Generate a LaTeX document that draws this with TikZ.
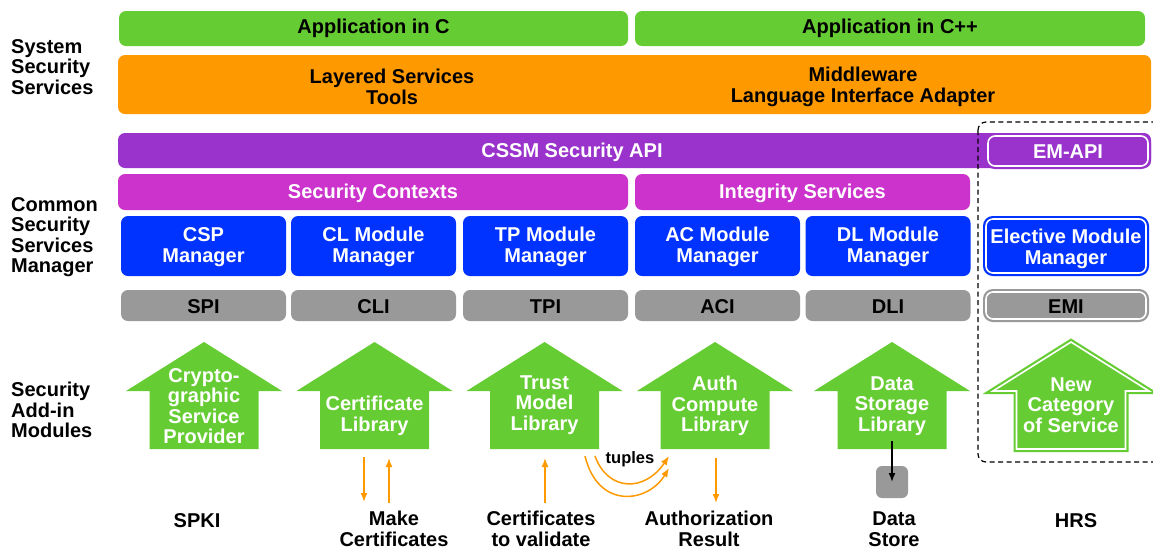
\documentclass[tikz,border=0pt]{standalone}
\usepackage{fontspec}
\setmainfont{Liberation Sans}
\usetikzlibrary{arrows.meta}
\definecolor{cgreen}{HTML}{66CC33}
\definecolor{corange}{HTML}{FF9900}
\definecolor{cpurple}{HTML}{9933CC}
\definecolor{cmagenta}{HTML}{CC33CC}
\definecolor{cblue}{HTML}{0033FF}
\definecolor{cgray}{HTML}{999999}
\definecolor{cflow}{HTML}{FF9900}

% green "add-in" block arrow pointing up, centred on x = #1
\newcommand\addinshape[1]{%
  (#1-54.5,449) -- (#1-54.5,391) -- (#1-78,391) -- (#1,342) --
  (#1+78,391) -- (#1+54.5,391) -- (#1+54.5,449) -- cycle}

\begin{document}
\begin{tikzpicture}[x=1pt,y=-1pt,
  txt/.style={font=\fontsize{20}{20.5}\selectfont\bfseries, align=center, inner sep=0pt},
  bar/.style={txt, rounded corners=7pt, draw=none},
  whitetxt/.style={txt, text=white, yshift=-1pt},
  blacktxt/.style={txt, text=black, yshift=-1pt},
  sidelabel/.style={txt, align=left, anchor=west},
  bottomlabel/.style={txt},
  rimmed/.style={rounded corners=7pt, line width=6pt},
  rimline/.style={rounded corners=7pt, draw=white, line width=1.6pt},
  flow/.style={draw=cflow, line width=1.5pt, -{Latex[length=9pt,width=7pt]}},
  modtxt/.style={txt, text=white}]
\useasboundingbox (0,0) rectangle (1153,550);

% ---- side labels
\node[sidelabel] (sss) at (11,67) {System\\Security\\Services};
\node[sidelabel] (cssml) at (11,237) {Common\\Security\\Services\\Manager};
\node[sidelabel] (saim) at (11,410) {Security\\Add-in\\Modules};

% ---- applications
\node[bar, blacktxt, fill=cgreen, minimum width=509pt, minimum height=35pt] (appc) at (373.5,27.5) {Application in C};
\node[bar, blacktxt, fill=cgreen, minimum width=510pt, minimum height=35pt] (appcpp) at (890,27.5) {Application in C++};

% ---- layered services / middleware
\node[bar, fill=corange, minimum width=1033pt, minimum height=59pt] (layer) at (634.5,84.5) {};
\node[blacktxt] (lst) at (392,86) {Layered Services\\Tools};
\node[blacktxt] (mw) at (863,86) {Middleware\\Language Interface Adapter};

% ---- CSSM API
\node[bar, fill=cpurple, minimum width=1033pt, minimum height=35pt] (api) at (634.5,150.5) {};
\node[whitetxt] (apit) at (572,151) {CSSM Security API};
\filldraw[cpurple, rimmed] (988,136) rectangle (1148,166);
\draw[rimline] (988,136) rectangle (1148,166);
\node[whitetxt] (emapi) at (1068,151) {EM-API};

% ---- contexts / integrity
\node[bar, fill=cmagenta, minimum width=510pt, minimum height=36pt] (ctx) at (373,192) {};
\node[whitetxt] at (ctx) {Security Contexts};
\node[bar, fill=cmagenta, minimum width=335pt, minimum height=36pt] (integ) at (802.5,192) {};
\node[whitetxt] at (integ) {Integrity Services};

% ---- module managers
\foreach \n/\cx/\t in {cspm/203.5/CSP\\Manager, clm/373.5/CL Module\\Manager, tpm/545.5/TP Module\\Manager,
                       acm/717.5/AC Module\\Manager, dlm/888/DL Module\\Manager}{
  \node[bar, fill=cblue, minimum width=165pt, minimum height=60pt] (\n) at (\cx,246) {};
  \node[whitetxt] at (\n) {\t};}
\filldraw[cblue, rimmed] (986,219) rectangle (1146,273);
\draw[rimline] (986,219) rectangle (1146,273);
\node[whitetxt] (emm) at (1066,248) {Elective Module\\Manager};

% ---- interfaces
\foreach \n/\cx/\t in {spi/203.5/SPI, cli/373.5/CLI, tpi/545.5/TPI, aci/717.5/ACI, dli/888/DLI}{
  \node[bar, fill=cgray, minimum width=165pt, minimum height=31pt] (\n) at (\cx,305.5) {};
  \node[blacktxt] at (\n) {\t};}
\filldraw[cgray, rimmed] (986,292) rectangle (1146,319);
\draw[rimline] (986,292) rectangle (1146,319);
\node[blacktxt] (emi) at (1066,306) {EMI};

% ---- add-in modules
\foreach \cx in {204,374.5,544.5,715,892}
  \fill[cgreen] \addinshape{\cx};
\draw[cgreen, fill=cgreen, line width=6pt, line join=miter] \addinshape{1071};
\draw[white, line width=1.6pt, line join=miter] \addinshape{1071};
\node[modtxt] (csp) at (204,406) {Crypto-\\graphic\\Service\\Provider};
\node[modtxt] (cl) at (374.5,416) {Certificate\\Library};
\node[modtxt] (tm) at (544.5,405) {Trust\\Model\\Library};
\node[modtxt] (ac) at (715,406) {Auth\\Compute\\Library};
\node[modtxt] (ds) at (892,406) {Data\\Storage\\Library};
\node[modtxt] (nc) at (1071,405) {New\\Category\\of Service};

% ---- elective module region
\draw[dash pattern=on 5pt off 3.5pt, line width=1.2pt, rounded corners=8pt] (978,122) rectangle (1170,462);

% ---- bottom labels
\node[bottomlabel] (spki) at (197,521) {SPKI};
\node[bottomlabel] (mk) at (394,529) {Make\\Certificates};
\node[bottomlabel] (cv) at (541,529) {Certificates\\to validate};
\node[bottomlabel] (ar) at (709,529) {Authorization\\Result};
\node[bottomlabel] (dst) at (894,529) {Data\\Store};
\node[bottomlabel] (hrs) at (1076,521) {HRS};

% ---- data flows
\coordinate (cl1) at (364,457);  \coordinate (mk1) at (364,502);
\coordinate (mk2) at (389,503);  \coordinate (cl2) at (389,458);
\coordinate (cv1) at (545,503);  \coordinate (tm1) at (545,458);
\coordinate (ac1) at (716,458);  \coordinate (ar1) at (716,503);
\coordinate (tmo1) at (595,456); \coordinate (aci1) at (669,456);
\coordinate (tmo2) at (585,456); \coordinate (aci2) at (669,468);
\draw[flow] (cl1) -- (mk1);
\draw[flow] (mk2) -- (cl2);
\draw[flow] (cv1) -- (tm1);
\draw[flow] (ac1) -- (ar1);
\draw[flow] (tmo1) .. controls (608,492) and (645,492) .. (aci1);
\draw[flow] (tmo2) .. controls (598,510) and (648,503) .. (aci2);
\node[txt, font=\fontsize{16.5}{18}\selectfont\bfseries] (tup) at (630,459) {tuples};

% ---- data store
\node[fill=cgray, rounded corners=6pt, minimum width=32pt, minimum height=32pt, inner sep=0pt] (store) at (892,482) {};
\coordinate (dsout) at (892,441);
\draw[line width=1.5pt, -{Latex[length=9pt,width=7pt]}] (dsout) -- (store.center);
\end{tikzpicture}
\end{document}
